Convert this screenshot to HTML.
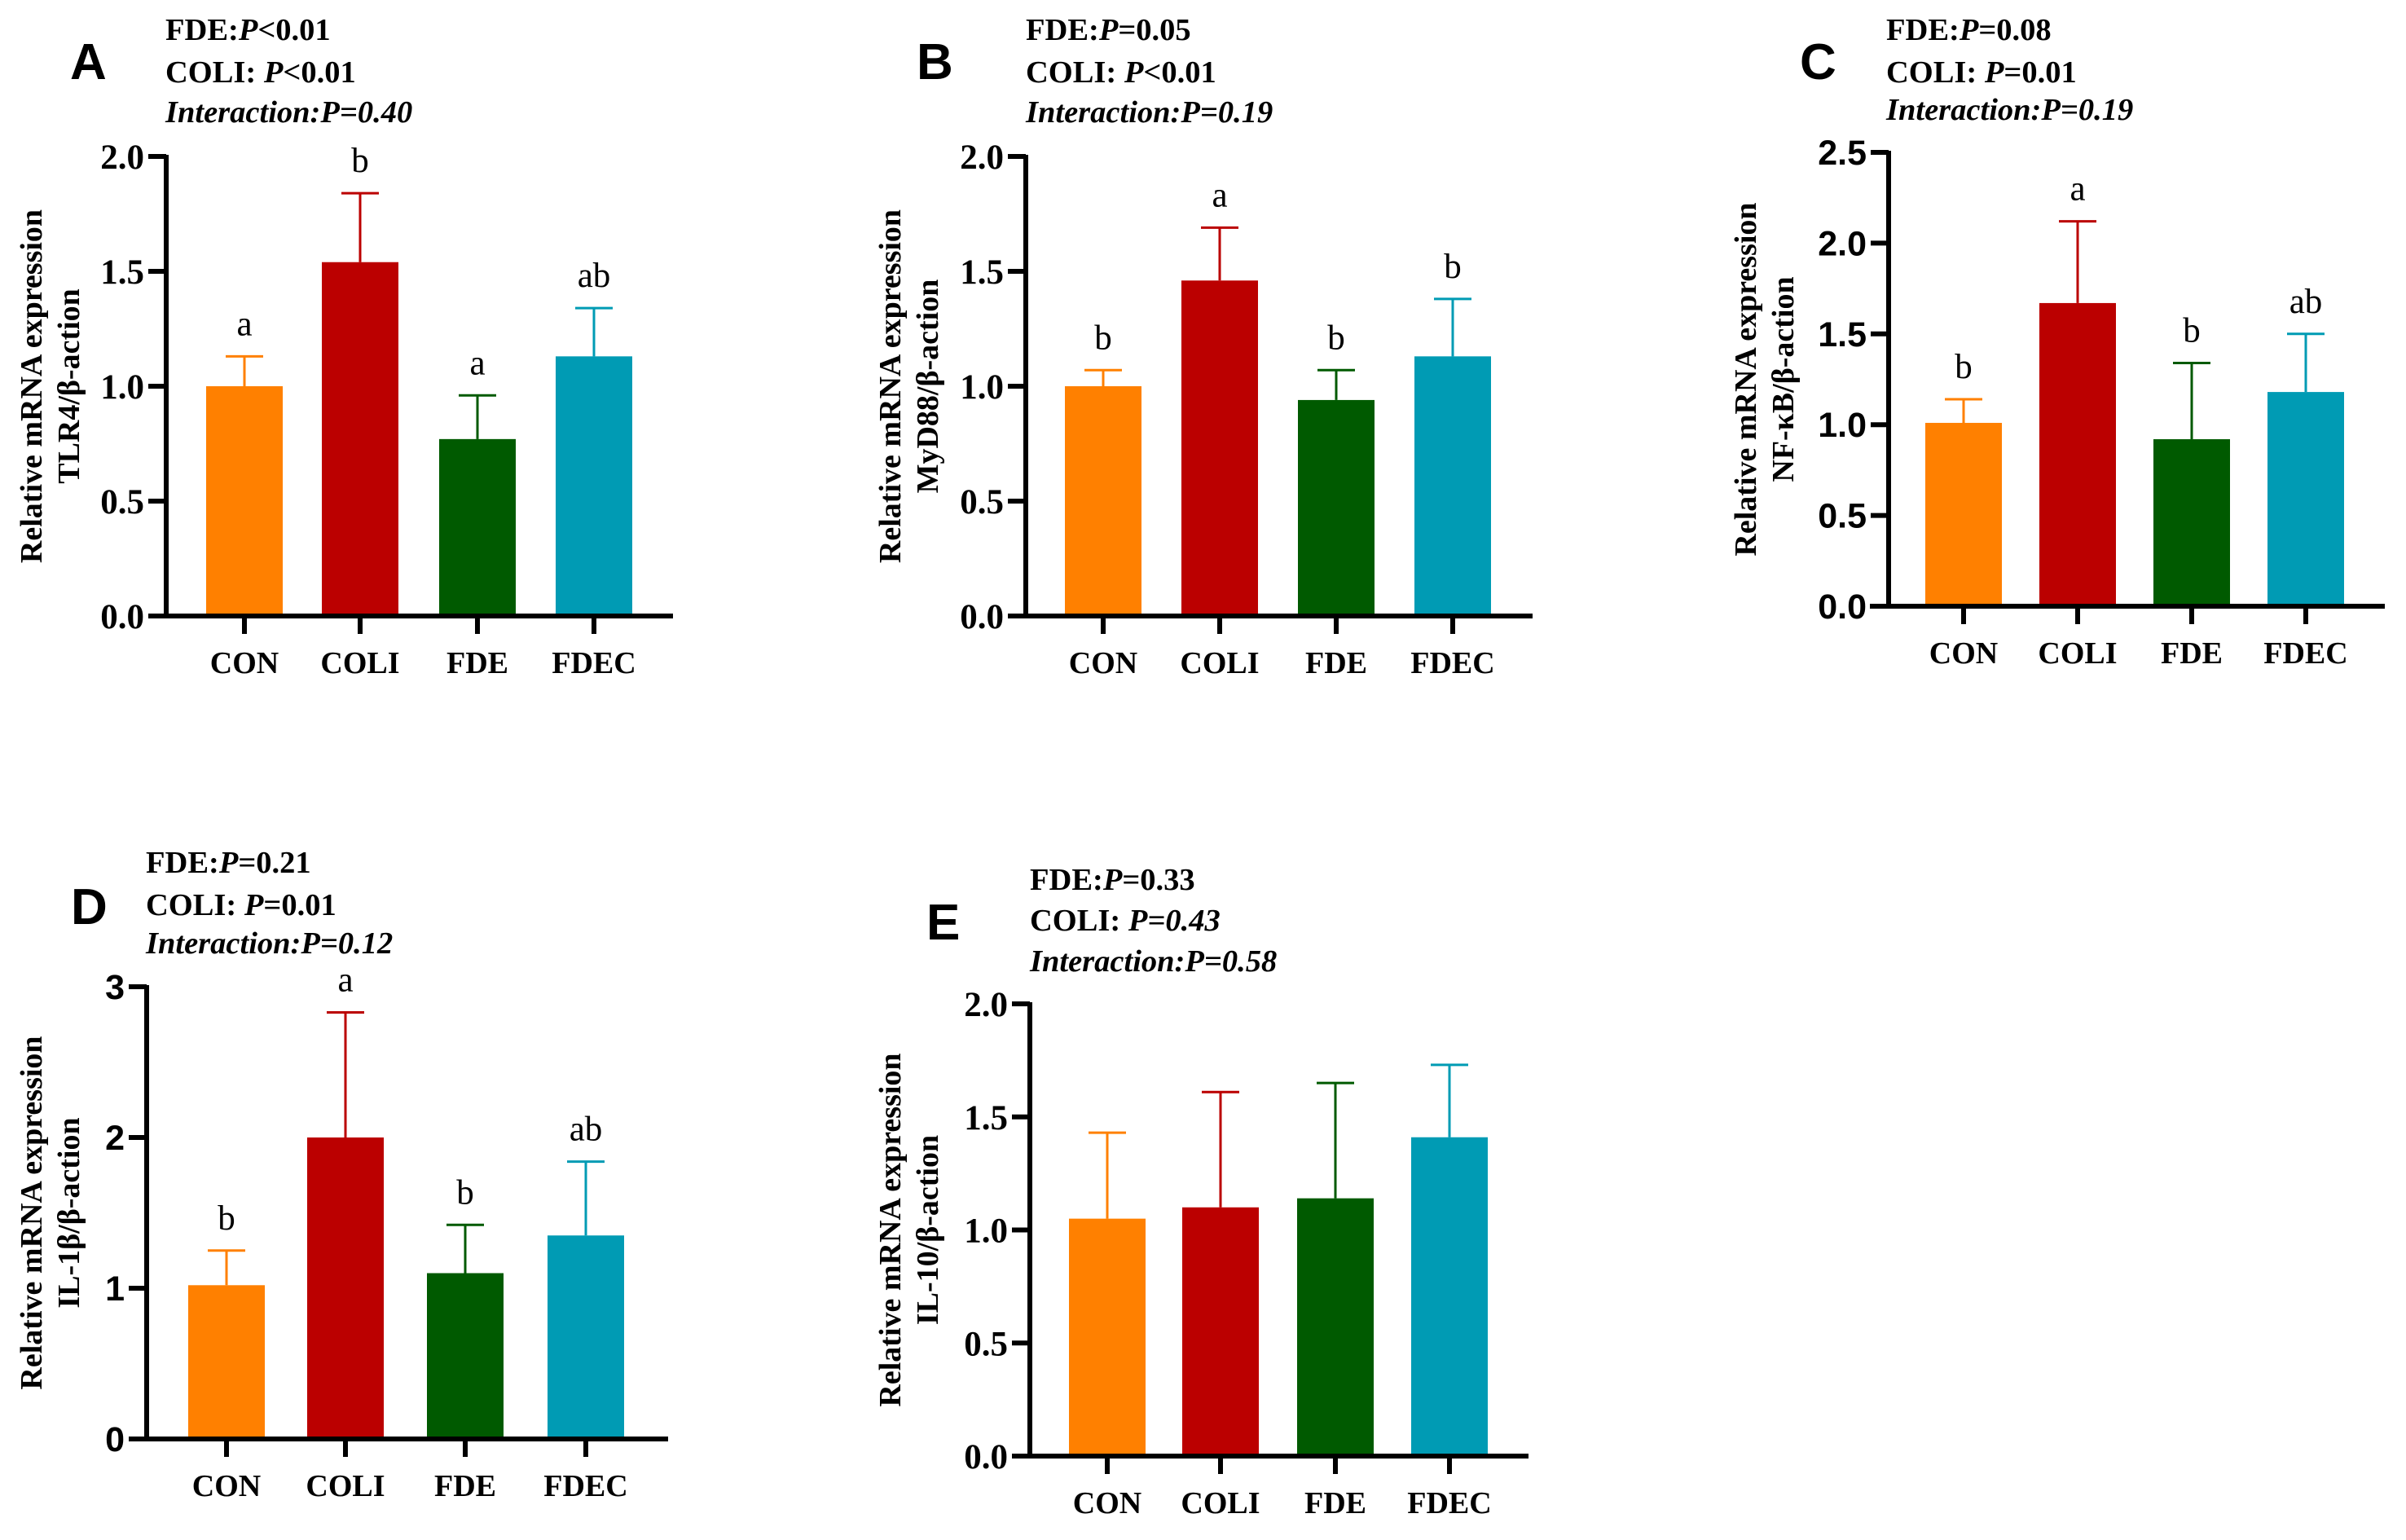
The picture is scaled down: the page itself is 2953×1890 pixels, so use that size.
<!DOCTYPE html>
<html><head><meta charset="utf-8">
<style>
html,body{margin:0;padding:0;background:#fff;}
svg{display:block;}
text{font-family:"Liberation Serif",serif;}
</style></head>
<body>
<svg id="fig" width="2953" height="1890" viewBox="0 0 2953 1890" xmlns="http://www.w3.org/2000/svg"></svg>
<script>
const categories = ["CON","COLI","FDE","FDEC"];
const colors = ["#FF8000","#BB0000","#005A00","#009BB4"];
const meansA = [1.00,1.54,0.77,1.13];
const errA = [1.13,1.84,0.96,1.34];
const lettersA = ["a","b","a","ab"];
const meansB = [1.00,1.46,0.94,1.13];
const errB = [1.07,1.69,1.07,1.38];
const lettersB = ["b","a","b","b"];
const meansC = [1.01,1.67,0.92,1.18];
const errC = [1.14,2.12,1.34,1.50];
const lettersC = ["b","a","b","ab"];
const meansD = [1.02,2.00,1.10,1.35];
const errD = [1.25,2.83,1.42,1.84];
const lettersD = ["b","a","b","ab"];
const meansE = [1.05,1.10,1.14,1.41];
const errE = [1.43,1.61,1.65,1.73];
const lettersE = ["","","",""];
const ticksA = ["0.0","0.5","1.0","1.5","2.0"];
const ticksC = ["0.0","0.5","1.0","1.5","2.0","2.5"];
const ticksD = ["0","1","2","3"];

const NS="http://www.w3.org/2000/svg";
const svg=document.getElementById('fig');
function mk(tag,attrs,parent){const e=document.createElementNS(NS,tag);for(const k in attrs)e.setAttribute(k,attrs[k]);(parent||svg).appendChild(e);return e;}

const panels=[
 {id:"a",letter:"A",lx:86,lby:97,ax:204,yTop:192,y0:756,xs:183,xe:826,ticksX:[300,442,586,729],tx:203,tb:[49,101,150],t1:38,t2:84,
  stats:[["FDE:","P","<0.01",false],["COLI: ","P","<0.01",false],["Interaction:","P","=0.40",true]],
  gene:"TLR4/β-action",means:meansA,err:errA,letters:lettersA,ticks:ticksA,max:2.0,sans:false},
 {id:"b",letter:"B",lx:1125,lby:97,ax:1259,yTop:192,y0:756,xs:1238,xe:1881,ticksX:[1354,1497,1640,1783],tx:1259,tb:[49,101,150],t1:1092,t2:1138,
  stats:[["FDE:","P","=0.05",false],["COLI: ","P","<0.01",false],["Interaction:","P","=0.19",true]],
  gene:"MyD88/β-action",means:meansB,err:errB,letters:lettersB,ticks:ticksA,max:2.0,sans:false},
 {id:"c",letter:"C",lx:2209,lby:97,ax:2318,yTop:187,y0:744,xs:2295,xe:2927,ticksX:[2410,2550,2690,2830],tx:2315,tb:[49,101,147],t1:2142,t2:2188,
  stats:[["FDE:","P","=0.08",false],["COLI: ","P","=0.01",false],["Interaction:","P","=0.19",true]],
  gene:"NF-κB/β-action",means:meansC,err:errC,letters:lettersC,ticks:ticksC,max:2.5,sans:true},
 {id:"d",letter:"D",lx:87,lby:1134,ax:180,yTop:1211,y0:1766,xs:158,xe:820,ticksX:[278,424,571,719],tx:179,tb:[1071,1123,1170],t1:38,t2:84,
  stats:[["FDE:","P","=0.21",false],["COLI: ","P","=0.01",false],["Interaction:","P","=0.12",true]],
  gene:"IL-1β/β-action",means:meansD,err:errD,letters:lettersD,ticks:ticksD,max:3,sans:true},
 {id:"e",letter:"E",lx:1137,lby:1153,ax:1264,yTop:1232,y0:1787,xs:1243,xe:1876,ticksX:[1359,1498,1639,1779],tx:1264,tb:[1092,1142,1192],t1:1092,t2:1138,
  stats:[["FDE:","P","=0.33",false],["COLI: ","P","=0.43",true],["Interaction:","P","=0.58",true]],
  gene:"IL-10/β-action",means:meansE,err:errE,letters:lettersE,ticks:ticksA,max:2.0,sans:false}
];

panels.forEach(p=>{
  const g=mk('g',{});
  
  
  const yScale=v=>p.y0-(v/p.max)*(p.y0-p.yTop);
  const L=mk('text',{x:p.lx,y:p.lby,'font-size':62,'font-weight':'bold',style:'font-family:"Liberation Sans",sans-serif'},g);
  L.textContent=p.letter;
  
  
  p.stats.forEach((s,i)=>{
    const t=mk('text',{x:p.tx,y:p.tb[i],'font-size':38.5,'font-weight':'bold'},g);
    
    
    const a=mk('tspan',{'font-style':i==2?'italic':'normal'},t);a.textContent=s[0];
    const b=mk('tspan',{'font-style':'italic'},t);b.textContent=s[1];
    const c=mk('tspan',{'font-style':s[3]?'italic':'normal'},t);c.textContent=s[2];
  });
  const bw=94;
  categories.forEach((cat,i)=>{
    const cx=p.ticksX[i];
    const yt=yScale(p.means[i]);
    const r=mk('rect',{x:cx-bw/2,y:yt,width:bw,height:p.y0-yt,fill:colors[i]},g);
    
    
    const ye=yScale(p.err[i]);
    const eb=mk('path',{d:`M${cx},${yt} L${cx},${ye} M${cx-23},${ye} L${cx+23},${ye}`,stroke:colors[i],'stroke-width':3,fill:'none'},g);
    
    
    if(p.letters[i]){
      const lt=mk('text',{x:cx,y:ye-26,'font-size':43,'text-anchor':'middle'},g);
      lt.textContent=p.letters[i];
      
      
    }
    const tk=mk('line',{x1:cx,y1:p.y0,x2:cx,y2:p.y0+22,stroke:'#000','stroke-width':6},g);
    
    
    const xl=mk('text',{x:cx,y:p.y0+70,'font-size':38,'font-weight':'bold','text-anchor':'middle'},g);
    xl.textContent=cat;
    
    
  });
  const ya=mk('line',{x1:p.ax,y1:p.yTop-2,x2:p.ax,y2:p.y0+3,stroke:'#000','stroke-width':6},g);
  
  
  const xa=mk('line',{x1:p.xs,y1:p.y0,x2:p.xe,y2:p.y0,stroke:'#000','stroke-width':6},g);
  
  
  const step=p.max/(p.ticks.length-1);
  p.ticks.forEach((lab,i)=>{
    const y=yScale(i*step);
    const t=mk('line',{x1:p.ax-22,y1:y,x2:p.ax,y2:y,stroke:'#000','stroke-width':6},g);
    
    
    const tl=mk('text',{x:p.ax-27,y:y+15,'font-size':43,'font-weight':'bold','text-anchor':'end'},g);
    if(p.sans) tl.setAttribute('style','font-family:"Liberation Sans",sans-serif');
    tl.textContent=lab;
    
    
  });
  const cy=(p.yTop+p.y0)/2;
  const yt1=mk('text',{x:0,y:0,'font-size':38,'font-weight':'bold','text-anchor':'middle',transform:`translate(${p.t1+13},${cy}) rotate(-90)`},g);
  yt1.textContent="Relative mRNA expression";
  
  
  const yt2=mk('text',{x:0,y:0,'font-size':38,'font-weight':'bold','text-anchor':'middle',transform:`translate(${p.t2+13},${cy}) rotate(-90)`},g);
  yt2.textContent=p.gene;
  
  
});
</script>
</body></html>
